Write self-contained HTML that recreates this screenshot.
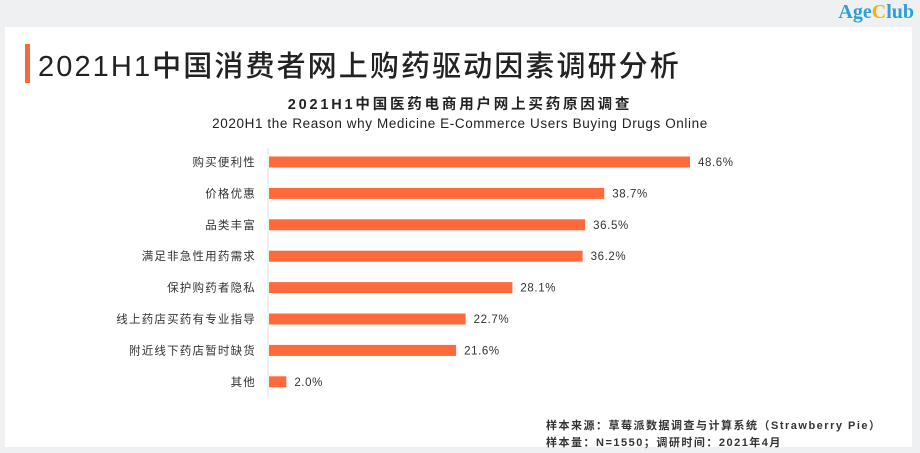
<!DOCTYPE html>
<html><head><meta charset="utf-8"><style>
body{margin:0;width:920px;height:453px;background:#eef0f2;overflow:hidden;font-family:"Liberation Sans","Noto Sans CJK SC",sans-serif;position:relative}
.card{position:absolute;left:5px;top:27px;width:907px;height:420px;background:#fff}
</style></head><body>
<div style="position:absolute;right:6px;top:1px;font-family:'Liberation Serif',serif;font-weight:bold;font-size:20px;color:#2a9fd8">Age<span style="color:#f5b400">C</span>lub</div>
<div class="card"></div>
<div style="position:absolute;left:25px;top:44px;width:5px;height:39px;background:#f06a3a"></div>
<div style="position:absolute;left:38px;top:43px;font-size:29px;color:#222;font-weight:500;letter-spacing:2.1px;white-space:nowrap">2021H1中国消费者网上购药驱动因素调研分析</div>
<div style="position:absolute;left:0;width:920px;top:93px;text-align:center;font-size:14.5px;font-weight:bold;color:#222;letter-spacing:2.8px">2021H1中国医药电商用户网上买药原因调查</div>
<div style="position:absolute;left:0;width:920px;top:116px;text-align:center;font-size:13.5px;color:#222;letter-spacing:0.6px">2020H1 the Reason why Medicine E-Commerce Users Buying Drugs Online</div>
<svg id="chart" width="920" height="453" style="position:absolute;left:0;top:0"></svg>
<div style="position:absolute;left:546px;top:418px;font-size:11px;color:#333;line-height:17px;font-weight:bold;letter-spacing:1.5px;white-space:nowrap">样本来源：草莓派数据调查与计算系统（Strawberry Pie）<br>样本量：N=1550；调研时间：2021年4月</div>
<script>
const categories=["购买便利性","价格优惠","品类丰富","满足非急性用药需求","保护购药者隐私","线上药店买药有专业指导","附近线下药店暂时缺货","其他"];
const values=[48.6,38.7,36.5,36.2,28.1,22.7,21.6,2.0];
const valueLabels=["48.6%","38.7%","36.5%","36.2%","28.1%","22.7%","21.6%","2.0%"];
const svg=document.getElementById('chart');
const NS='http://www.w3.org/2000/svg';
const x0=269,pxPer=421/48.6;
const xs=v=>x0+v*pxPer;
const ys=i=>162+i*31.4;
const ax=document.createElementNS(NS,'line');
ax.setAttribute('x1',268);ax.setAttribute('x2',268);ax.setAttribute('y1',148);ax.setAttribute('y2',397);
ax.setAttribute('stroke','#e2e2e2');ax.setAttribute('stroke-width','1');


svg.appendChild(ax);
categories.forEach((c,i)=>{
  const y=ys(i);
  const r=document.createElementNS(NS,'rect');
  r.setAttribute('x',x0);r.setAttribute('y',y-5.5);r.setAttribute('width',xs(values[i])-x0);r.setAttribute('height',11);r.setAttribute('fill','#ff6a3d');
  
  
  svg.appendChild(r);
  const t=document.createElementNS(NS,'text');
  t.setAttribute('x',256);t.setAttribute('y',y+4);t.setAttribute('text-anchor','end');t.setAttribute('font-size','11.5');t.setAttribute('fill','#333');t.setAttribute('letter-spacing','1.2');
  t.textContent=c;
  
  
  svg.appendChild(t);
  const v=document.createElementNS(NS,'text');
  v.setAttribute('x',xs(values[i])+8);v.setAttribute('y',y+4);v.setAttribute('font-size','11.5');v.setAttribute('fill','#333');v.setAttribute('letter-spacing','0.6');
  v.textContent=valueLabels[i];
  
  
  svg.appendChild(v);
});
</script>
</body></html>
